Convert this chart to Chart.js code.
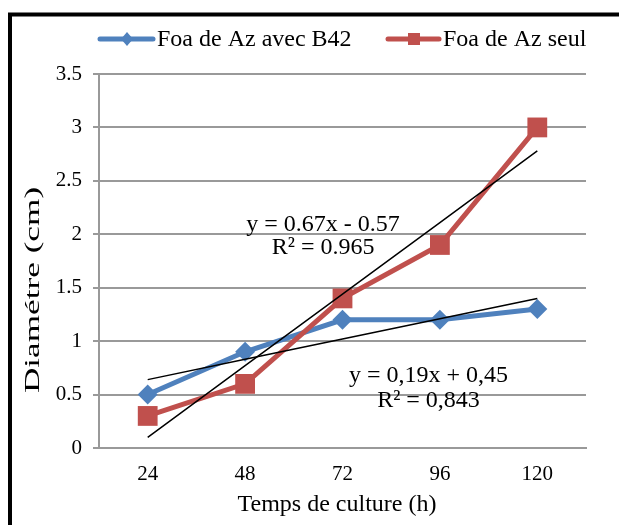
<!DOCTYPE html>
<html><head><meta charset="utf-8">
<script src="https://cdn.jsdelivr.net/npm/chart.js@4/dist/chart.umd.min.js"></script>
<style>html,body{margin:0;padding:0;background:#fff;overflow:hidden}canvas{display:block}</style>
</head><body>
<canvas id="c" width="619" height="525"></canvas>
<script>
const categories = ['24', '48', '72', '96', '120'];
const avecB42 = [0.5, 0.9, 1.2, 1.2, 1.3];
const seul = [0.3, 0.6, 1.4, 1.9, 3.0];
const trendAvec = [0.64, 0.83, 1.02, 1.21, 1.40];
const trendSeul = [0.10, 0.77, 1.44, 2.11, 2.78];
const yTicks = [0, 0.5, 1, 1.5, 2, 2.5, 3, 3.5];
const seriesNames = ['Foa de Az avec B42', 'Foa de Az seul'];
const eqSeul = ['y = 0.67x - 0.57', 'R² = 0.965'];
const eqAvec = ['y = 0,19x + 0,45', 'R² = 0,843'];
const xTitle = 'Temps de culture (h)';
const yTitle = 'Diamétre (cm)';

const BLUE = '#4F81BD', RED = '#C0504D', GRID = '#999999';
const FONT = '"Liberation Serif", "Times New Roman", serif';

const extras = {
  id: 'extras',
  afterDraw(chart) {
    const ctx = chart.ctx;
    const xs = chart.scales.x, ys = chart.scales.y;
    ctx.save();
    // frame
    ctx.strokeStyle = '#000'; ctx.lineWidth = 4;
    ctx.strokeRect(10, 14.5, 700, 600);
    // legend
    ctx.lineCap = 'round';
    const ly = 39;
    ctx.strokeStyle = BLUE; ctx.lineWidth = 5;
    ctx.beginPath(); ctx.moveTo(100, ly); ctx.lineTo(153, ly); ctx.stroke();
    ctx.fillStyle = BLUE;
    ctx.beginPath(); ctx.moveTo(127 - 6, ly); ctx.lineTo(127, ly - 7); ctx.lineTo(127 + 6, ly); ctx.lineTo(127, ly + 7); ctx.closePath(); ctx.fill();
    ctx.strokeStyle = RED;
    ctx.beginPath(); ctx.moveTo(388, ly); ctx.lineTo(439, ly); ctx.stroke();
    ctx.fillStyle = RED; ctx.fillRect(414 - 6, ly - 6, 12, 12);
    ctx.fillStyle = '#000'; ctx.font = '24px ' + FONT;
    ctx.textBaseline = 'middle'; ctx.textAlign = 'left';
    ctx.fillText(seriesNames[0], 157, ly + 1);
    ctx.fillText(seriesNames[1], 443, ly + 1);
    // equations
    ctx.textAlign = 'center';
    const x1 = xs.getPixelForValue(1) + 78;
    ctx.fillText(eqSeul[0], x1, ys.getPixelForValue(2.09));
    ctx.fillText(eqSeul[1], x1, ys.getPixelForValue(1.87));
    const x2 = xs.getPixelForValue(2) + 86;
    ctx.fillText(eqAvec[0], x2, ys.getPixelForValue(0.68));
    ctx.fillText(eqAvec[1], x2, ys.getPixelForValue(0.44));
    // axis titles
    ctx.fillText(xTitle, 337, 505);
    ctx.translate(33, 290);
    ctx.rotate(-Math.PI / 2);
    ctx.scale(1.6, 1);
    ctx.font = '22px ' + FONT;
    ctx.fillText(yTitle, 0, 0);
    ctx.restore();
  }
};

new Chart(document.getElementById('c'), {
  type: 'line',
  data: {
    labels: categories,
    datasets: [
      { label: 'trendSeul', data: trendSeul, borderColor: '#000', borderWidth: 1.5, pointRadius: 0, order: 0 },
      { label: 'trendAvec', data: trendAvec, borderColor: '#000', borderWidth: 1.5, pointRadius: 0, order: 0 },
      { label: seriesNames[1], data: seul, borderColor: RED, backgroundColor: RED, borderWidth: 5,
        pointStyle: 'rect', pointRadius: 14, pointBorderWidth: 0, order: 1 },
      { label: seriesNames[0], data: avecB42, borderColor: BLUE, backgroundColor: BLUE, borderWidth: 5,
        pointStyle: 'rectRot', pointRadius: 10, pointBorderWidth: 0, order: 2 }
    ]
  },
  options: {
    responsive: false, animation: false, events: [],
    layout: { padding: { top: 74, right: 33, left: 0, bottom: 0 } },
    plugins: { legend: { display: false }, tooltip: { enabled: false } },
    scales: {
      x: {
        offset: true,
        grid: { display: false, drawTicks: false },
        border: { display: true, color: GRID, width: 2 },
        ticks: { color: '#000', font: { family: FONT, size: 21 }, padding: 14, maxRotation: 0 },
        title: { display: false },
        afterFit(s) { s.height = 77; }
      },
      y: {
        min: 0, max: 3.5,
        afterBuildTicks(s) { s.ticks = yTicks.map(v => ({ value: v })); },
        grid: { color: GRID, lineWidth: 2, tickLength: 6, drawTicks: true },
        border: { display: true, color: GRID, width: 2 },
        ticks: { color: '#000', font: { family: FONT, size: 21 }, padding: 11,
                 callback: v => String(v) },
        title: { display: false },
        afterFit(s) { s.width = 99; }
      }
    }
  },
  plugins: [extras]
});
</script>
</body></html>
